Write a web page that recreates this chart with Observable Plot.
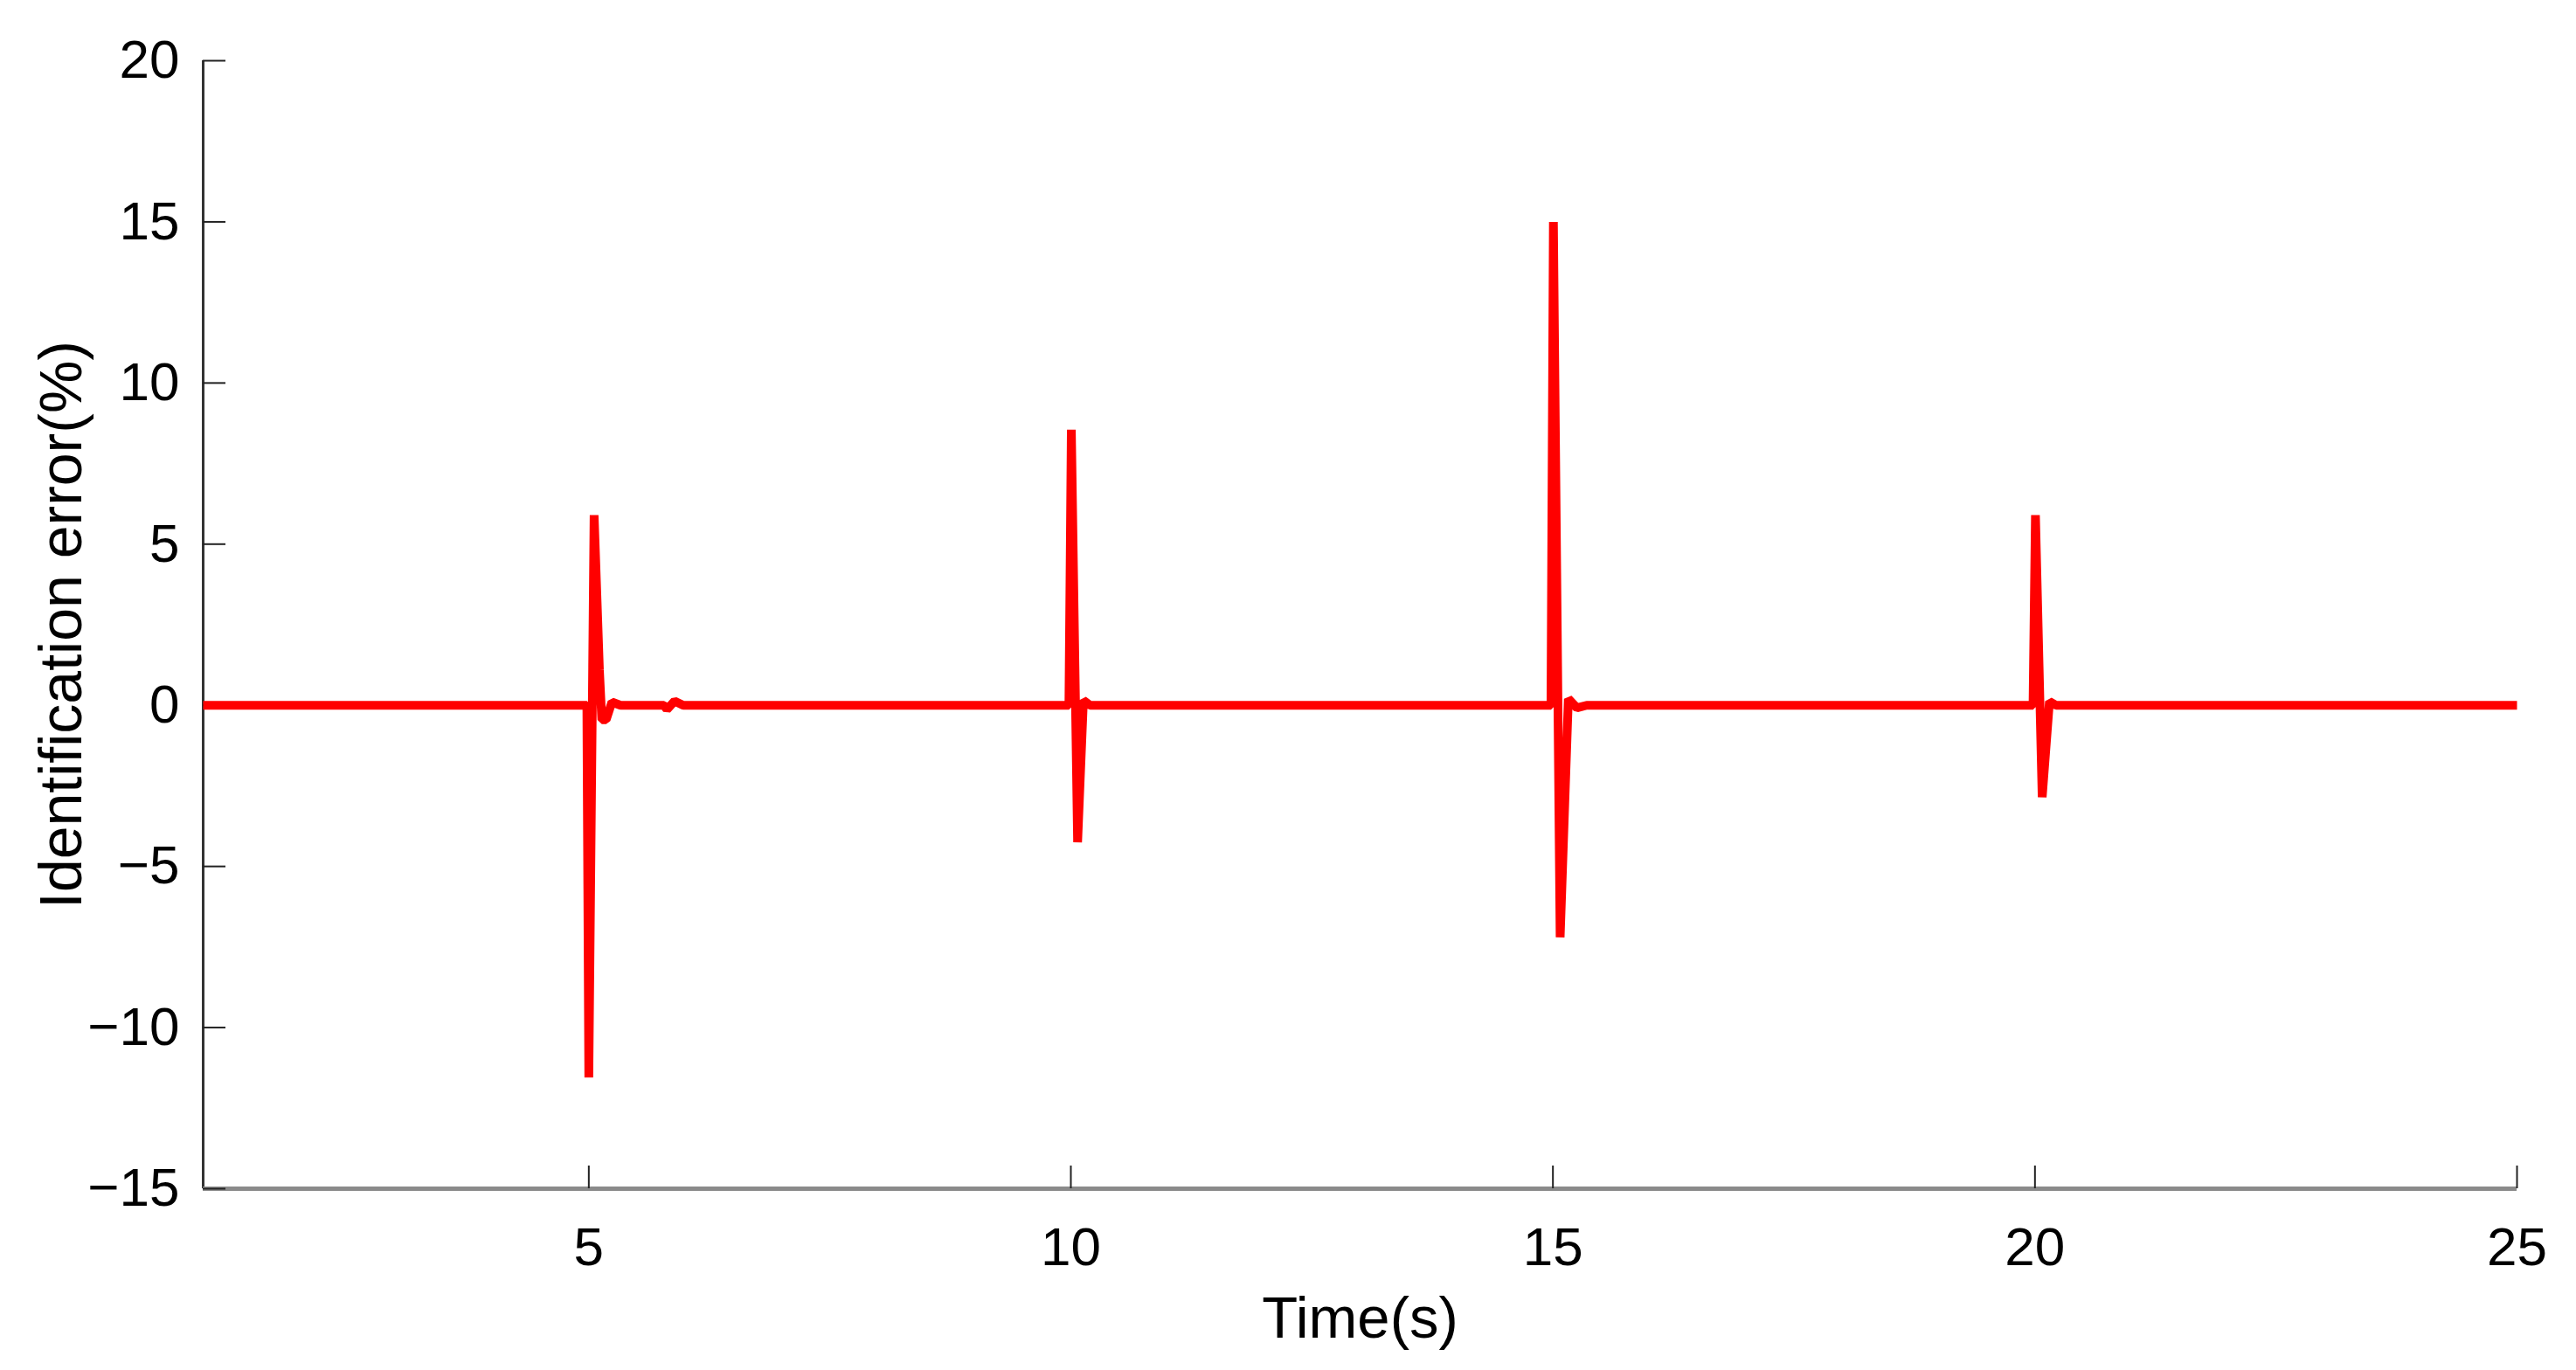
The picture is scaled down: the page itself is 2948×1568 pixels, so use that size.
<!DOCTYPE html>
<html>
<head>
<meta charset="utf-8">
<script src="https://cdn.jsdelivr.net/npm/d3@7"></script>
<script src="https://cdn.jsdelivr.net/npm/@observablehq/plot@0.6"></script>
<style>
  html, body { margin: 0; padding: 0; background: #ffffff; }
  #chart { width: 2948px; height: 1568px; }
</style>
</head>
<body>
<div id="chart"></div>
<script>
// ---- Data ----
const time = [
  1, 4.98, 5.00, 5.055, 5.11, 5.135, 5.18, 5.24, 5.33,
  5.78, 5.81, 5.89, 5.98,
  9.98, 10.005, 10.07, 10.13, 10.20,
  14.98, 15.005, 15.075, 15.16, 15.25, 15.35,
  19.98, 20.005, 20.075, 20.15, 20.22,
  25
];
const error = [
  0, 0, -11.55, 5.9, 1.1, -0.45, -0.45, 0.1, 0,
  0, -0.13, 0.13, 0,
  0, 8.55, -4.25, 0.15, 0,
  0, 15.0, -7.2, 0.2, -0.08, 0,
  0, 5.9, -2.85, 0.12, 0,
  0
];
const xTicks = [5, 10, 15, 20, 25];
const yTicks = [-15, -10, -5, 0, 5, 10, 15, 20];
const xDomain = [1, 25];
const yDomain = [-15, 20];
const xLabel = "Time(s)";
const yLabel = "Identification error(%)";

// ---- Build table ----
const data = time.map((t, i) => ({t, e: error[i]}));

const W = 2948, H = 1568;
const mL = 232, mR = 68, mT = 69, mB = 208;
const plotW = W - mL - mR, plotH = H - mT - mB;
const fmt = d => d < 0 ? "\u2212" + Math.abs(d) : String(d);

const chart = Plot.plot({
  width: W,
  height: H,
  marginLeft: mL,
  marginRight: mR,
  marginTop: mT,
  marginBottom: mB,
  style: {fontFamily: "'Liberation Sans', Arial, Helvetica, sans-serif", background: "#ffffff", color: "#000000", overflow: "visible"},
  x: {domain: xDomain},
  y: {domain: yDomain},
  marks: [
    Plot.axisX(xTicks, {anchor: "bottom", tickSize: 0, tickPadding: 43, fontSize: 62, label: null, tickFormat: fmt}),
    Plot.axisY(yTicks, {anchor: "left", tickSize: 0, tickPadding: 27, fontSize: 62, label: null, tickFormat: fmt}),
    Plot.ruleX([xDomain[0]], {stroke: "#333333", strokeWidth: 3}),
    Plot.ruleY([yDomain[0]], {stroke: "#8a8a8a", strokeWidth: 5}),
    Plot.tickY(yTicks, {y: d => d, insetRight: plotW - 26, stroke: "#222222", strokeWidth: 2}),
    Plot.tickX(xTicks, {x: d => d, insetTop: plotH - 26, stroke: "#222222", strokeWidth: 2}),
    Plot.line(data, {x: "t", y: "e", stroke: "#ff0000", strokeWidth: 10, strokeLinejoin: "bevel", strokeLinecap: "butt"}),
    Plot.text([xLabel], {frameAnchor: "bottom", dy: 149, fontSize: 67, fill: "#000000", lineAnchor: "middle", textAnchor: "middle"}),
    Plot.text([yLabel], {frameAnchor: "left", rotate: -90, dx: -161, fontSize: 68, fill: "#000000", lineAnchor: "middle", textAnchor: "middle"})
  ]
});
document.getElementById("chart").appendChild(chart);
</script>
</body>
</html>
